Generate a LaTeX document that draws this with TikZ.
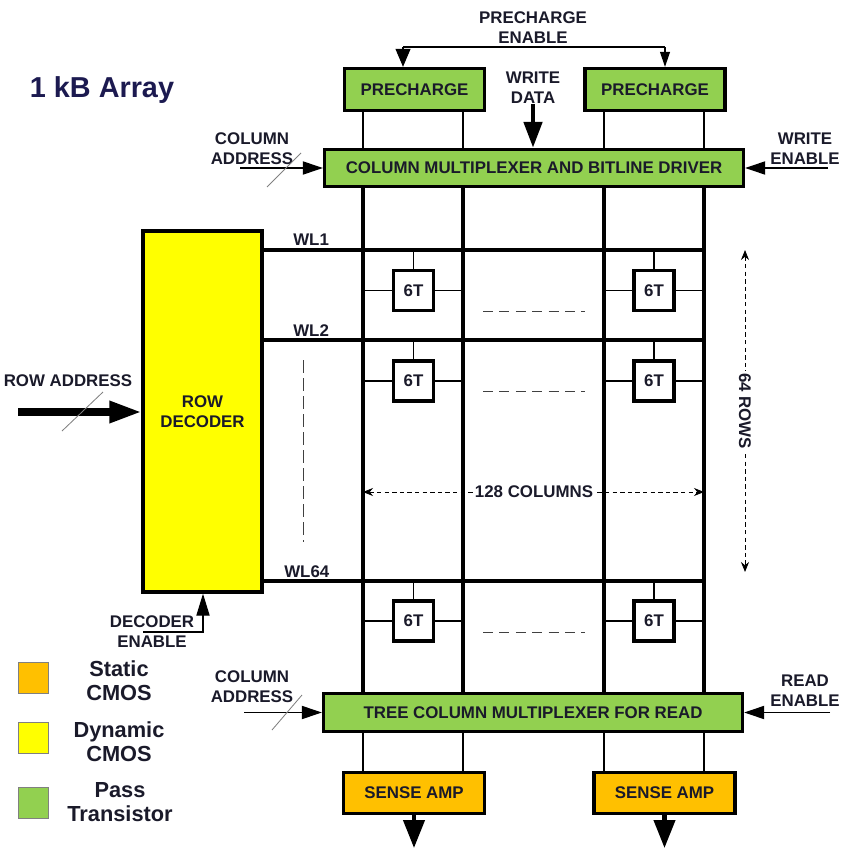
\documentclass[tikz,border=0pt]{standalone}
\usepackage{fontspec}
\setmainfont{Liberation Sans}
\usetikzlibrary{arrows.meta}

\definecolor{passgreen}{HTML}{92D050}
\definecolor{dynyellow}{HTML}{FFFF00}
\definecolor{statorange}{HTML}{FFC000}
\definecolor{titlenavy}{HTML}{1C1A50}
\definecolor{txtdark}{HTML}{1A1A2A}

\newcommand{\lblfont}{\fontsize{12}{14.2}\selectfont\bfseries}
\newcommand{\keyfont}{\fontsize{15.5}{17}\selectfont\bfseries}

\begin{document}
\begin{tikzpicture}[x=0.25mm,y=-0.25mm,
  blk/.style={draw, line width=2.4pt, font=\lblfont, text=txtdark, inner sep=0pt, align=center},
  lbl/.style={font=\lblfont, text=txtdark, inner sep=0pt, align=center},
  cell/.style={draw, line width=2.4pt, fill=white, minimum size=10mm, inner sep=0pt, font=\lblfont, text=txtdark},
  bitline/.style={line width=2.9pt},
  thinline/.style={line width=0.8pt},
  sig/.style={line width=0.9pt, -{Triangle[length=5mm,width=3.3mm]}},
  bus/.style={gray, line width=0.6pt},
  rowdash/.style={dashed, dash pattern=on 2.5mm off 1.6mm, line width=0.7pt, darkgray},
  dim/.style={dash pattern=on 1.1mm off 0.8mm, line width=0.6pt, {Stealth[length=2.5mm,width=2mm]}-{Stealth[length=2.5mm,width=2mm]}},
  key/.style={draw=gray, line width=0.6pt, minimum width=7.5mm, minimum height=7.75mm}]

\useasboundingbox (0,0) rectangle (850,848);

\node[lbl, anchor=base, font=\fontsize{20.5}{24}\selectfont\bfseries, text=titlenavy] (title) at (102,98) {1 kB Array};

% blocks
\node[blk, fill=passgreen, minimum width=35mm, minimum height=10.5mm] (pre1) at (414.5,89.5) {PRECHARGE};
\node[blk, fill=passgreen, minimum width=35mm, minimum height=10.5mm] (pre2) at (655,89.5) {PRECHARGE};
\node[blk, fill=passgreen, minimum width=104.75mm, minimum height=9.25mm] (colmux) at (534,168) {COLUMN MULTIPLEXER AND BITLINE DRIVER};
\node[blk, fill=passgreen, minimum width=104.75mm, minimum height=9.5mm] (treemux) at (533,712.5) {TREE COLUMN MULTIPLEXER FOR READ};
\node[blk, fill=statorange, minimum width=35.25mm, minimum height=10.25mm] (sa1) at (414,793) {SENSE AMP};
\node[blk, fill=statorange, minimum width=35.25mm, minimum height=10.25mm] (sa2) at (664.5,793) {SENSE AMP};
\node[blk, fill=dynyellow, minimum width=29.75mm, minimum height=90.25mm] (rowdec) at (202.5,411.5) {ROW\\DECODER};

% bitlines and wordlines
\foreach \bx [count=\bi] in {363,463,604,704}
  \coordinate (bl\bi) at (\bx,0);
\foreach \bi in {1,...,4}
  \draw[bitline] (colmux.south -| bl\bi) -- (treemux.north -| bl\bi);
\foreach \b in {1,2} {
  \draw[thinline] (pre1.south -| bl\b) -- (colmux.north -| bl\b);
  \draw[thinline] (treemux.south -| bl\b) -- (sa1.north -| bl\b);
}
\foreach \b in {3,4} {
  \draw[thinline] (pre2.south -| bl\b) -- (colmux.north -| bl\b);
  \draw[thinline] (treemux.south -| bl\b) -- (sa2.north -| bl\b);
}
\foreach \wy/\wn/\wx in {250/1/293, 340/2/293, 581/64/284} {
  \coordinate (wly\wn) at (0,\wy);
  \draw[bitline] (rowdec.east |- wly\wn) -- (bl4 |- wly\wn);
  \node[lbl, anchor=base west] (wl\wn) at (\wx,\wy-4) {WL\wn};
}

% 6T cells
\foreach \wi/\cy in {1/290.5, 2/381, 64/621} {
  \foreach \ci/\cx/\bl/\br in {a/413.5/bl1/bl2, b/654/bl3/bl4} {
    \node[cell] (c\wi\ci) at (\cx,\cy) {6T};
    \draw[thinline] (c\wi\ci.north) -- (c\wi\ci.north |- wly\wi);
    \draw[thinline] (c\wi\ci.west) -- (c\wi\ci.west -| \bl);
    \draw[thinline] (c\wi\ci.east) -- (c\wi\ci.east -| \br);
  }
}
\foreach \dy in {311,391,632}
  \draw[rowdash] (483,\dy) -- (585,\dy);
\draw[rowdash, dash pattern=on 3.2mm off 1.3mm] (303,360) -- (303,542);

% dimensions
\coordinate (colmid) at (534,492);
\draw[dim] (bl1 |- colmid) -- (bl4 |- colmid);
\node[lbl, fill=white, inner xsep=1.5pt] (ncol) at (colmid) {128 COLUMNS};
\coordinate (rowmid) at (745,411);
\coordinate (rowend) at (745,572);
\draw[dim] (rowmid |- wly1) -- (rowend);
\node[lbl, fill=white, inner xsep=1.5pt, rotate=-90] (nrow) at (rowmid) {64 ROWS};

% control signals
\node[lbl] (pcen) at (533,28) {PRECHARGE\\ENABLE};
\coordinate (pcl) at (403,47);
\coordinate (pcr) at (665,47);
\draw[thinline] (pcl) -- (pcr);
\draw[thinline, -{Triangle[length=4.5mm,width=3.75mm]}] (pcl) -- (pre1.north -| pcl);
\draw[thinline, -{Triangle[length=3.75mm,width=2.5mm]}] (pcr) -- (pre2.north -| pcr);

\node[lbl] (wdata) at (533,88) {WRITE\\DATA};
\draw[line width=3.4pt, -{Triangle[length=6.5mm,width=4.5mm]}] (wdata.south) -- (colmux.north -| wdata);

\node[lbl] (cadr1) at (252,149) {COLUMN\\ADDRESS};
\coordinate (cadr1in) at (240,168);
\draw[sig] (cadr1in) -- (colmux.west);
\draw[bus] (267,187) -- (301,153);

\node[lbl] (wen) at (805,149) {WRITE\\ENABLE};
\coordinate (wenin) at (828,168);
\draw[sig] (wenin) -- (colmux.east);

\node[lbl] (cadr2) at (252,687) {COLUMN\\ADDRESS};
\coordinate (cadr2in) at (244,712.5);
\draw[sig] (cadr2in) -- (treemux.west);
\draw[bus] (272,730) -- (302,695);

\node[lbl] (ren) at (805,691) {READ\\ENABLE};
\coordinate (renin) at (830,712.5);
\draw[sig] (renin) -- (treemux.east);

\node[lbl, anchor=base] (radr) at (68,386) {ROW ADDRESS};
\coordinate (radrin) at (18,412);
\draw[line width=5pt, -{Triangle[length=8mm,width=5.2mm]}] (radrin) -- (rowdec.west |- radrin);
\draw[bus] (62,431) -- (103,392);

\node[lbl] (decen) at (152,632) {DECODER\\ENABLE};
\coordinate (decin) at (143,632);
\coordinate (decx) at (203,0);
\draw[line width=0.9pt, -{Triangle[length=5.5mm,width=3.3mm]}] (decin) -| (rowdec.south -| decx);

\coordinate (out1) at (414,848);
\coordinate (out2) at (664.5,848);
\draw[line width=3pt, -{Triangle[length=7mm,width=5.25mm]}] (sa1.south) -- (out1);
\draw[line width=3pt, -{Triangle[length=7mm,width=5.25mm]}] (sa2.south) -- (out2);

% legend
\node[key, fill=statorange] (kst) at (33,677.5) {};
\node[key, fill=dynyellow] (kdy) at (33,738) {};
\node[key, fill=passgreen] (kpt) at (33,803) {};
\node[lbl, font=\keyfont] (tst) at (119,681) {Static\\CMOS};
\node[lbl, font=\keyfont] (tdy) at (119,742) {Dynamic\\CMOS};
\node[lbl, font=\keyfont] (tpt) at (120,802.5) {Pass\\Transistor};
\end{tikzpicture}
\end{document}
